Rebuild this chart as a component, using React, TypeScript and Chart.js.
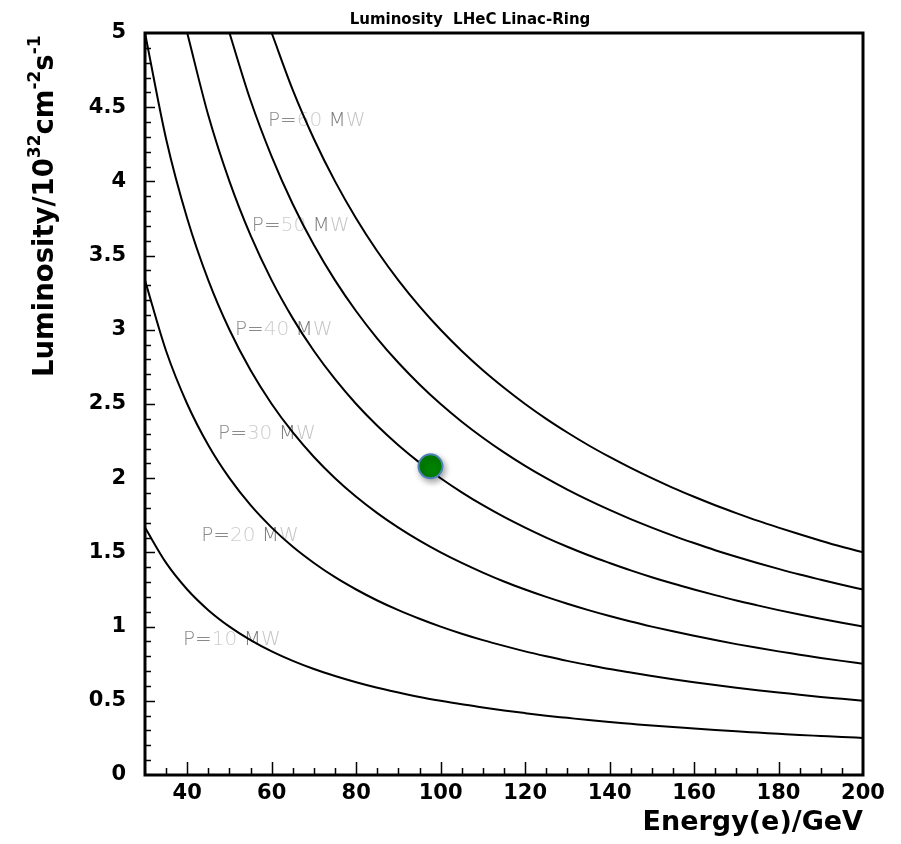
import { useEffect, useRef } from "react";
import { Chart, registerables } from "chart.js";

Chart.register(...registerables);

// ---- data ----
const energies = [
  30, 35, 40, 45, 50, 55, 60, 65, 70, 75, 80, 85, 90, 95, 100, 105, 110, 115, 120, 125, 130, 135, 140, 145, 150,
  155, 160, 165, 170, 175, 180, 185, 190, 195, 200,
];
const energiesFrom40 = energies.slice(2);
const energiesFrom50 = energies.slice(4);
const energiesFrom60 = energies.slice(6);

const lumiP10 = [
  1.667, 1.429, 1.25, 1.111, 1.0, 0.909, 0.833, 0.769, 0.714, 0.667, 0.625, 0.588, 0.556, 0.526, 0.5, 0.476, 0.455,
  0.435, 0.417, 0.4, 0.385, 0.37, 0.357, 0.345, 0.333, 0.323, 0.313, 0.303, 0.294, 0.286, 0.278, 0.27, 0.263, 0.256,
  0.25,
];
const lumiP20 = [
  3.333, 2.857, 2.5, 2.222, 2.0, 1.818, 1.667, 1.538, 1.429, 1.333, 1.25, 1.176, 1.111, 1.053, 1.0, 0.952, 0.909,
  0.87, 0.833, 0.8, 0.769, 0.741, 0.714, 0.69, 0.667, 0.645, 0.625, 0.606, 0.588, 0.571, 0.556, 0.541, 0.526, 0.513,
  0.5,
];
const lumiP30 = [
  5.0, 4.286, 3.75, 3.333, 3.0, 2.727, 2.5, 2.308, 2.143, 2.0, 1.875, 1.765, 1.667, 1.579, 1.5, 1.429, 1.364, 1.304,
  1.25, 1.2, 1.154, 1.111, 1.071, 1.034, 1.0, 0.968, 0.938, 0.909, 0.882, 0.857, 0.833, 0.811, 0.789, 0.769, 0.75,
];
const lumiP40 = [
  5.0, 4.444, 4.0, 3.636, 3.333, 3.077, 2.857, 2.667, 2.5, 2.353, 2.222, 2.105, 2.0, 1.905, 1.818, 1.739, 1.667, 1.6,
  1.538, 1.481, 1.429, 1.379, 1.333, 1.29, 1.25, 1.212, 1.176, 1.143, 1.111, 1.081, 1.053, 1.026, 1.0,
];
const lumiP50 = [
  5.0, 4.545, 4.167, 3.846, 3.571, 3.333, 3.125, 2.941, 2.778, 2.632, 2.5, 2.381, 2.273, 2.174, 2.083, 2.0, 1.923,
  1.852, 1.786, 1.724, 1.667, 1.613, 1.563, 1.515, 1.471, 1.429, 1.389, 1.351, 1.316, 1.282, 1.25,
];
const lumiP60 = [
  5.0, 4.615, 4.286, 4.0, 3.75, 3.529, 3.333, 3.158, 3.0, 2.857, 2.727, 2.609, 2.5, 2.4, 2.308, 2.222, 2.143, 2.069,
  2.0, 1.935, 1.875, 1.818, 1.765, 1.714, 1.667, 1.622, 1.579, 1.538, 1.5,
];

const designEnergy = [97.6];
const designLumi = [2.08];

const powerNumbers = ["10", "20", "30", "40", "50", "60"];
const powerLabelEnergy = [39.0, 43.3, 47.3, 51.3, 55.3, 59.1];
const powerLabelLumi = [0.91, 1.61, 2.3, 3.0, 3.7, 4.41];

const xTickValues = [40, 60, 80, 100, 120, 140, 160, 180, 200];
const yTickValues = [0, 0.5, 1, 1.5, 2, 2.5, 3, 3.5, 4, 4.5, 5];
const yTickLabels = ["0", "0.5", "1", "1.5", "2", "2.5", "3", "3.5", "4", "4.5", "5"];

const chartTitle = "Luminosity  LHeC Linac-Ring";
const xTitle = "Energy(e)/GeV";
const yTitleParts: [string, boolean][] = [
  ["Luminosity/10", false],
  ["32", true],
  ["cm", false],
  ["-2", true],
  ["s", false],
  ["-1", true],
];

const FONT = '"DejaVu Sans", "Liberation Sans", sans-serif';

const toPts = (xs: number[], ys: number[]) => xs.map((x, i) => ({ x, y: ys[i] }));

const decorPlugin = {
  id: "decor",
  beforeDatasetsDraw(chart: any) {
    const { ctx, scales } = chart;
    const xs = scales.x;
    const ys = scales.y;
    ctx.save();
    ctx.font = `200 20px ${FONT}`;
    ctx.textBaseline = "middle";
    ctx.textAlign = "left";
    powerNumbers.forEach((num, i) => {
      let px = xs.getPixelForValue(powerLabelEnergy[i]);
      const py = ys.getPixelForValue(powerLabelLumi[i]);
      const segs: [string, string][] = [
        ["P=", "#8a8a8a"],
        [num, "#cdcdcd"],
        [" M", "#7a7a7a"],
        ["W", "#c4c4c4"],
      ];
      segs.forEach(([t, c]) => {
        ctx.fillStyle = c;
        ctx.fillText(t, px, py);
        px += ctx.measureText(t).width;
      });
    });
    ctx.restore();
  },
  beforeDatasetDraw(chart: any, args: any) {
    if (args.index === 0) {
      const ctx = chart.ctx;
      ctx.save();
      ctx.shadowColor = "rgba(0,0,0,0.35)";
      ctx.shadowBlur = 6;
      ctx.shadowOffsetX = 2;
      ctx.shadowOffsetY = 3;
    }
  },
  afterDatasetDraw(chart: any, args: any) {
    if (args.index === 0) chart.ctx.restore();
  },
  afterDraw(chart: any) {
    const { ctx, chartArea, scales } = chart;
    const { left, right, top, bottom } = chartArea;
    const xs = scales.x;
    const ys = scales.y;
    ctx.save();
    ctx.strokeStyle = "#000";
    ctx.lineWidth = 1.5;
    ctx.beginPath();
    for (let v = 35; v < 200; v += 5) {
      const px = Math.round(xs.getPixelForValue(v)) + 0.5;
      const len = v % 20 === 0 ? 13 : 7;
      ctx.moveTo(px, bottom);
      ctx.lineTo(px, bottom - len);
    }
    for (let k = 1; k < 50; k++) {
      const v = k / 10;
      const py = Math.round(ys.getPixelForValue(v)) + 0.5;
      const len = k % 5 === 0 ? 10 : 6;
      ctx.moveTo(left, py);
      ctx.lineTo(left + len, py);
    }
    ctx.stroke();
    ctx.lineWidth = 3;
    ctx.strokeRect(left, top, right - left, bottom - top);

    ctx.fillStyle = "#000";
    ctx.font = `bold 15px ${FONT}`;
    ctx.textAlign = "center";
    ctx.textBaseline = "alphabetic";
    ctx.fillText(chartTitle, 470, 24);

    ctx.translate(53, 377);
    ctx.rotate(-Math.PI / 2);
    ctx.textAlign = "left";
    let cx = 0;
    yTitleParts.forEach(([t, sup]) => {
      ctx.font = sup ? `bold 17px ${FONT}` : `bold 27.5px ${FONT}`;
      ctx.fillText(t, cx, sup ? -13 : 0);
      cx += ctx.measureText(t).width;
    });
    ctx.restore();
  },
};

export default function App() {
  const ref = useRef<HTMLCanvasElement | null>(null);

  useEffect(() => {
    if (!ref.current) return;
    const curve = (data: any[]) => ({
      type: "line" as const,
      data,
      borderColor: "#000",
      borderWidth: 2,
      pointRadius: 0,
      fill: false,
      cubicInterpolationMode: "monotone" as const,
    });
    const chart = new Chart(ref.current, {
      type: "line",
      data: {
        datasets: [
          {
            type: "scatter",
            data: toPts(designEnergy, designLumi),
            backgroundColor: "#008000",
            borderColor: "#4f81bd",
            borderWidth: 2,
            pointRadius: 12,
            pointHoverRadius: 12,
          } as any,
          curve(toPts(energies, lumiP10)),
          curve(toPts(energies, lumiP20)),
          curve(toPts(energies, lumiP30)),
          curve(toPts(energiesFrom40, lumiP40)),
          curve(toPts(energiesFrom50, lumiP50)),
          curve(toPts(energiesFrom60, lumiP60)),
        ],
      },
      options: {
        animation: false,
        responsive: false,
        devicePixelRatio: 1,
        events: [],
        layout: { padding: { left: 0, right: 38, top: 33, bottom: 0 } },
        plugins: {
          legend: { display: false },
          tooltip: { enabled: false },
          title: { display: false },
        },
        scales: {
          x: {
            type: "linear",
            min: 30,
            max: 200,
            grid: { display: false, drawTicks: false },
            border: { display: false },
            afterBuildTicks: (s: any) => {
              s.ticks = xTickValues.map((v) => ({ value: v }));
            },
            afterFit: (s: any) => {
              s.height = 69;
            },
            ticks: {
              autoSkip: false,
              maxRotation: 0,
              padding: 6,
              color: "#000",
              font: { family: FONT, size: 21, weight: "bold" },
              callback: (v: any) => String(v),
            },
            title: {
              display: true,
              text: xTitle,
              align: "end",
              color: "#000",
              font: { family: FONT, size: 27, weight: "bold" },
              padding: { top: 0, bottom: 5 },
            },
          },
          y: {
            type: "linear",
            min: 0,
            max: 5,
            grid: { display: false, drawTicks: false },
            border: { display: false },
            afterBuildTicks: (s: any) => {
              s.ticks = yTickValues.map((v) => ({ value: v }));
            },
            afterFit: (s: any) => {
              s.width = 145;
            },
            ticks: {
              autoSkip: false,
              padding: 19,
              color: "#000",
              font: { family: FONT, size: 21, weight: "bold" },
              callback: (v: any) => {
                const i = yTickValues.indexOf(Number(v));
                return i >= 0 ? yTickLabels[i] : "";
              },
            },
          },
        },
      },
      plugins: [decorPlugin],
    });
    return () => chart.destroy();
  }, []);

  return (
    <div style={{ position: "fixed", left: 0, top: 0, width: 901, height: 844, background: "#fff" }}>
      <canvas ref={ref} width={901} height={844} style={{ width: 901, height: 844 }} />
    </div>
  );
}
